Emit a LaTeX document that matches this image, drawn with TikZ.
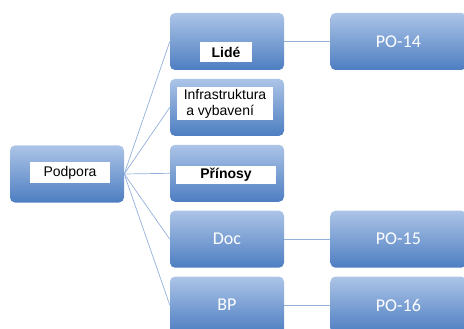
\documentclass[tikz,border=0pt]{standalone}
\usepackage{fontspec}
\setmainfont{Carlito}
\newfontfamily\arialfont{Liberation Sans}
\usetikzlibrary{positioning}
\definecolor{boxtop}{HTML}{ACC4E7}
\definecolor{boxbot}{HTML}{4D7EC1}
\definecolor{linkblue}{HTML}{93B0DB}

\begin{document}
\begin{tikzpicture}[
  x=1pt,y=1pt,
  node distance=8.5pt and 46pt,
  box/.style={rounded corners=5pt,top color=boxtop,bottom color=boxbot,draw=none,minimum width=114pt,minimum height=57pt,inner sep=0pt,text=white,font=\fontsize{18}{21}\selectfont},
  pobox/.style={box,minimum width=136pt},
  lbl/.style={fill=white,inner sep=0pt,text=black,align=left,font=\arialfont\fontsize{14}{15.5}\selectfont},
  link/.style={draw=linkblue,line width=0.7pt}
]
\useasboundingbox (0,0) rectangle (464,-329);
\clip (0,0) rectangle (464,-329);

% left column
\node[box] (podpora) at (67,-174) {};

% middle column
\node[box] (lide) at (227,-41.5) {};
\node[box,below=of lide] (infra) {};
\node[box,below=of infra] (prinosy) {};
\node[box,below=of prinosy] (doc) {Doc};
\node[box,below=of doc] (bp) {BP};

% right column
\node[pobox,right=of lide] (po14) {PO-14};
\node[pobox,right=of doc] (po15) {PO-15};
\node[pobox,right=of bp] (po16) {PO-16};

% white labels
\node[lbl,minimum width=80pt,minimum height=21pt] (podporalbl) at ([xshift=3pt,yshift=1.5pt]podpora.center) {\hspace{8pt}Podpora\hspace{8pt}};
\node[lbl,minimum width=52pt,minimum height=20pt,align=center] (lidelbl) at ([xshift=-1pt,yshift=-10.5pt]lide.center) {\bfseries Lidé};
\node[lbl,minimum width=96pt,minimum height=33pt] (infralbl) at ([xshift=-2pt,yshift=3.5pt]infra.center) {Infrastruktura\\\hspace{2.5pt}a vybavení};
\node[lbl,minimum width=100pt,minimum height=18pt,align=center] (prinosylbl) at ([xshift=-1pt,yshift=-1.5pt]prinosy.center) {\bfseries Přínosy};

% connectors
\foreach \n in {lide,infra,prinosy,doc,bp}
  \draw[link] (podpora.east) -- (\n.west);
\draw[link] (lide) -- (po14);
\draw[link] (doc) -- (po15);
\draw[link] (bp) -- (po16);
\end{tikzpicture}
\end{document}
